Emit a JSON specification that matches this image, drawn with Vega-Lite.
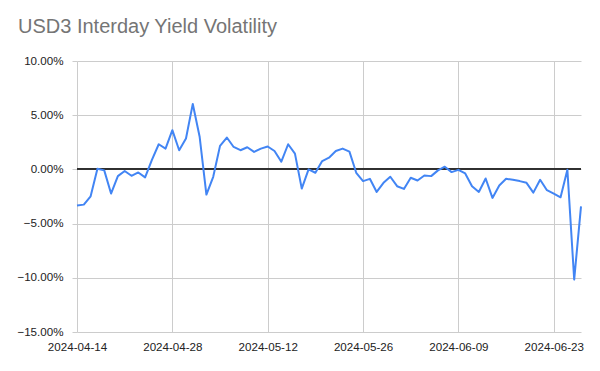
{
  "$schema": "https://vega.github.io/schema/vega-lite/v6.json",
  "width": 504,
  "height": 271,
  "autosize": "none",
  "padding": {"left": 77, "top": 61, "right": 19, "bottom": 39},
  "background": "white",
  "config": {"view": {"stroke": null}, "font": "Liberation Sans"},
  "title": {
    "text": "USD3 Interday Yield Volatility",
    "anchor": "start",
    "frame": "group",
    "dx": -59,
    "fontSize": 20,
    "fontWeight": "normal",
    "color": "#757575",
    "font": "Liberation Sans",
    "offset": 18
  },
  "data": {
    "values": [
      {"date": "2024-04-14", "v": -3.32},
      {"date": "2024-04-15", "v": -3.25},
      {"date": "2024-04-16", "v": -2.48},
      {"date": "2024-04-17", "v": 0.06},
      {"date": "2024-04-18", "v": -0.09},
      {"date": "2024-04-19", "v": -2.23},
      {"date": "2024-04-20", "v": -0.62},
      {"date": "2024-04-21", "v": -0.15},
      {"date": "2024-04-22", "v": -0.59},
      {"date": "2024-04-23", "v": -0.28},
      {"date": "2024-04-24", "v": -0.74},
      {"date": "2024-04-25", "v": 0.87},
      {"date": "2024-04-26", "v": 2.32},
      {"date": "2024-04-27", "v": 1.92},
      {"date": "2024-04-28", "v": 3.62},
      {"date": "2024-04-29", "v": 1.77},
      {"date": "2024-04-30", "v": 2.85},
      {"date": "2024-05-01", "v": 6.04},
      {"date": "2024-05-02", "v": 3.04},
      {"date": "2024-05-03", "v": -2.32},
      {"date": "2024-05-04", "v": -0.68},
      {"date": "2024-05-05", "v": 2.17},
      {"date": "2024-05-06", "v": 2.94},
      {"date": "2024-05-07", "v": 2.07},
      {"date": "2024-05-08", "v": 1.77},
      {"date": "2024-05-09", "v": 2.04},
      {"date": "2024-05-10", "v": 1.61},
      {"date": "2024-05-11", "v": 1.92},
      {"date": "2024-05-12", "v": 2.11},
      {"date": "2024-05-13", "v": 1.70},
      {"date": "2024-05-14", "v": 0.71},
      {"date": "2024-05-15", "v": 2.32},
      {"date": "2024-05-16", "v": 1.46},
      {"date": "2024-05-17", "v": -1.77},
      {"date": "2024-05-18", "v": 0.0},
      {"date": "2024-05-19", "v": -0.31},
      {"date": "2024-05-20", "v": 0.77},
      {"date": "2024-05-21", "v": 1.08},
      {"date": "2024-05-22", "v": 1.70},
      {"date": "2024-05-23", "v": 1.92},
      {"date": "2024-05-24", "v": 1.64},
      {"date": "2024-05-25", "v": -0.31},
      {"date": "2024-05-26", "v": -1.08},
      {"date": "2024-05-27", "v": -0.87},
      {"date": "2024-05-28", "v": -2.08},
      {"date": "2024-05-29", "v": -1.24},
      {"date": "2024-05-30", "v": -0.68},
      {"date": "2024-05-31", "v": -1.55},
      {"date": "2024-06-01", "v": -1.80},
      {"date": "2024-06-02", "v": -0.77},
      {"date": "2024-06-03", "v": -1.02},
      {"date": "2024-06-04", "v": -0.56},
      {"date": "2024-06-05", "v": -0.62},
      {"date": "2024-06-06", "v": -0.09},
      {"date": "2024-06-07", "v": 0.25},
      {"date": "2024-06-08", "v": -0.25},
      {"date": "2024-06-09", "v": -0.04},
      {"date": "2024-06-10", "v": -0.37},
      {"date": "2024-06-11", "v": -1.55},
      {"date": "2024-06-12", "v": -2.08},
      {"date": "2024-06-13", "v": -0.84},
      {"date": "2024-06-14", "v": -2.63},
      {"date": "2024-06-15", "v": -1.49},
      {"date": "2024-06-16", "v": -0.87},
      {"date": "2024-06-17", "v": -0.96},
      {"date": "2024-06-18", "v": -1.08},
      {"date": "2024-06-19", "v": -1.24},
      {"date": "2024-06-20", "v": -2.14},
      {"date": "2024-06-21", "v": -0.96},
      {"date": "2024-06-22", "v": -1.92},
      {"date": "2024-06-23", "v": -2.23},
      {"date": "2024-06-24", "v": -2.57},
      {"date": "2024-06-25", "v": -0.03},
      {"date": "2024-06-26", "v": -10.16},
      {"date": "2024-06-27", "v": -3.41}
    ]
  },
  "transform": [{"calculate": "datum.v / 100", "as": "pct"}],
  "layer": [
    {
      "mark": {"type": "rule", "color": "#333333", "strokeWidth": 1},
      "encoding": {"y": {"datum": 0}}
    },
    {
      "mark": {"type": "line", "color": "#4285F4", "strokeWidth": 2, "strokeJoin": "round"},
      "encoding": {
        "x": {
          "field": "date",
          "type": "temporal",
          "title": null,
          "scale": {
            "type": "utc",
            "domain": [
              {"year": 2024, "month": 4, "date": 14, "utc": true},
              {"year": 2024, "month": 6, "date": 27, "utc": true}
            ],
            "nice": false
          },
          "axis": {
            "values": [
              {"year": 2024, "month": 4, "date": 14, "utc": true},
              {"year": 2024, "month": 4, "date": 28, "utc": true},
              {"year": 2024, "month": 5, "date": 12, "utc": true},
              {"year": 2024, "month": 5, "date": 26, "utc": true},
              {"year": 2024, "month": 6, "date": 9, "utc": true},
              {"year": 2024, "month": 6, "date": 23, "utc": true}
            ],
            "format": "%Y-%m-%d",
            "domain": false,
            "ticks": false,
            "grid": true,
            "gridColor": "#cccccc",
            "gridWidth": 1,
            "labelFont": "Liberation Sans",
            "labelFontSize": 11.6,
            "labelColor": "#222222",
            "labelPadding": 9,
            "labelFlush": false,
            "labelOverlap": false
          }
        },
        "y": {
          "field": "pct",
          "type": "quantitative",
          "title": null,
          "scale": {"domain": [-0.15, 0.10], "nice": false, "zero": false},
          "axis": {
            "values": [-0.15, -0.10, -0.05, 0, 0.05, 0.10],
            "format": ".2%",
            "domain": false,
            "ticks": true,
            "tickSize": 5,
            "tickColor": "#cccccc",
            "grid": true,
            "gridColor": "#cccccc",
            "gridWidth": 1,
            "labelFont": "Liberation Sans",
            "labelFontSize": 11.6,
            "labelColor": "#222222",
            "labelPadding": 9
          }
        }
      }
    }
  ]
}
